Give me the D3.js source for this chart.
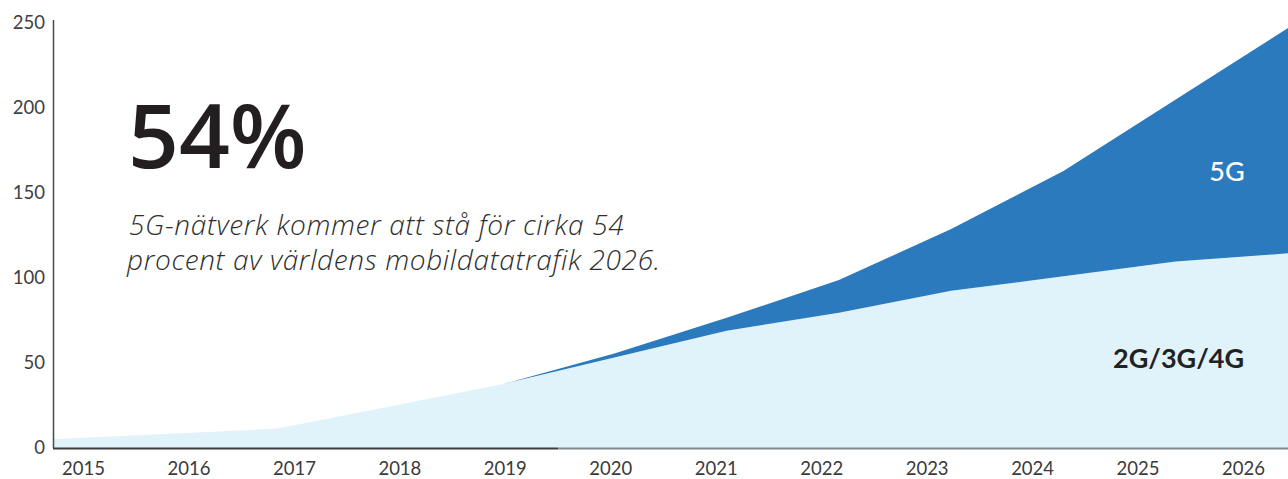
<!DOCTYPE html>
<html>
<head>
<meta charset="utf-8">
<script src="https://cdn.jsdelivr.net/npm/d3@7"></script>
<style>
    html, body { margin: 0; padding: 0; background: #ffffff; }
    #chart { width: 1288px; height: 479px; }
</style>
</head>
<body>
<div id="chart"></div>
<script>
const years = [2015, 2016, 2017, 2018, 2019, 2020, 2021, 2022, 2023, 2024, 2025, 2026];
// EB per month
const legacyTraffic = [5.1, 8.2, 11.4, 24.4, 37.5, 53.2, 69, 79.6, 92.5, 101, 109.7, 114.5];
const fiveGTraffic = [0, 0, 0, 0, 0, 2.4, 7.6, 19.2, 36.3, 62, 95.3, 132.5];
const yTicks = [0, 50, 100, 150, 200, 250];
const seriesKeys = ['legacy', 'fiveG'];
const seriesLabels = ['2G/3G/4G', '5G'];
const seriesColors = ['#e0f2fa', '#2b7abe'];

document.addEventListener('DOMContentLoaded', function() {
    const width = 1288;
    const height = 479;
    const font = 'Lato, "Open Sans", sans-serif';

    const svg = d3.select('#chart')
        .append('svg')
        .attr('width', width)
        .attr('height', height)
        .attr('viewBox', `0 0 ${width} ${height}`)
        .style('font-family', font);

    const x = d3.scaleLinear()
        .domain([years[0], years[years.length - 1]])
        .range([53, 1288]);

    // year labels are spread a bit differently than the data points
    const xLabels = d3.scalePoint()
        .domain(years)
        .range([83, 1243]);

    const y = d3.scaleLinear()
        .domain([0, 250])
        .range([448, 23]);

    const rows = years.map((yr, i) => ({
        year: yr,
        legacy: legacyTraffic[i],
        fiveG: fiveGTraffic[i]
    }));

    const stacked = d3.stack().keys(seriesKeys)(rows);

    const area = d3.area()
        .x(d => x(d.data.year))
        .y0(d => y(d[0]))
        .y1(d => y(d[1]));

    svg.selectAll('path.layer')
        .data(stacked)
        .enter()
        .append('path')
        .attr('class', 'layer')
        .attr('d', area)
        .attr('fill', (d, i) => seriesColors[i]);

    // y axis
    const yAxis = svg.append('g')
        .attr('transform', `translate(${x.range()[0]},0)`)
        .call(d3.axisLeft(y).tickValues(yTicks).tickSize(0).tickPadding(8));
    yAxis.attr('font-family', font);
    yAxis.select('.domain')
        .attr('stroke', '#4a4a4a')
        .attr('stroke-width', 1.5)
        .attr('d', `M0.5,${y(0)}V${y(250) - 3}`);
    yAxis.selectAll('text')
        .style('font-size', '18.5px')
        .attr('fill', '#404040');

    // x axis labels
    const xAxis = svg.append('g')
        .attr('transform', `translate(0,${y(0)})`)
        .call(d3.axisBottom(xLabels).tickSize(0).tickPadding(14));
    xAxis.attr('font-family', font);
    xAxis.select('.domain').remove();
    xAxis.selectAll('text')
        .style('font-size', '18.5px')
        .attr('fill', '#3a3a3a');

    // baseline: dark on the left part, lighter grey after
    svg.append('line')
        .attr('x1', x(2015)).attr('x2', x(2019.5))
        .attr('y1', y(0) + 0.5).attr('y2', y(0) + 0.5)
        .attr('stroke', '#3c3c3c')
        .attr('stroke-width', 2);
    svg.append('line')
        .attr('x1', x(2019.5)).attr('x2', x(2026))
        .attr('y1', y(0) + 0.5).attr('y2', y(0) + 0.5)
        .attr('stroke', '#82888d')
        .attr('stroke-width', 2);

    // series labels
    svg.append('text')
        .attr('x', 1227)
        .attr('y', 181)
        .attr('text-anchor', 'middle')
        .attr('fill', '#ffffff')
        .style('font-size', '27px')
        .style('font-weight', '500')
        .text(seriesLabels[1]);

    svg.append('text')
        .attr('x', 1244)
        .attr('y', 368)
        .attr('text-anchor', 'end')
        .attr('fill', '#222222')
        .style('font-size', '27px')
        .style('font-weight', '700')
        .text(seriesLabels[0]);

    // headline
    svg.append('text')
        .attr('x', 128)
        .attr('y', 168)
        .attr('fill', '#231f20')
        .style('font-family', '"Open Sans", Lato, sans-serif')
        .style('font-size', '89px')
        .style('font-weight', '600')
        .text('54%');

    const note = svg.append('text')
        .attr('fill', '#2e2e2e')
        .style('font-family', '"Open Sans", Lato, sans-serif')
        .style('font-size', '28px')
        .style('font-style', 'italic')
        .style('font-weight', '300')
        .style('letter-spacing', '0.65px');
    note.append('tspan')
        .attr('x', 129).attr('y', 235)
        .text('5G-nätverk kommer att stå för cirka 54');
    note.append('tspan')
        .attr('x', 127).attr('y', 270)
        .text('procent av världens mobildatatrafik 2026.');
});
</script>
</body>
</html>
